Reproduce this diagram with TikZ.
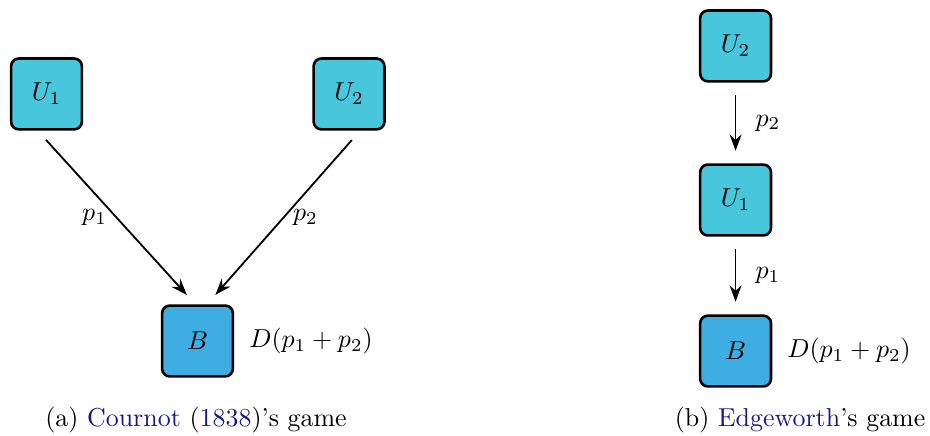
\documentclass[tikz,border=0pt]{standalone}
\usepackage{amsmath,amssymb}
\usepackage{tikz}
\usetikzlibrary{positioning, arrows.meta, calc}
\definecolor{ucyan}{RGB}{72,198,220}
\definecolor{bblue}{RGB}{62,174,226}
\definecolor{citeblue}{RGB}{24,24,140}
\tikzset{
  player/.style={draw, line width=1pt, rounded corners=3pt, fill=ucyan, minimum width=0.96cm, minimum height=0.96cm},
  buyer/.style={player, fill=bblue},
  wire/.style={-{Stealth[length=2.2mm, width=1.6mm]}, line width=0.7pt, shorten <=0.17cm, shorten >=0.17cm}
}

\begin{document}
\begin{tikzpicture}
    \useasboundingbox (0,0) rectangle (12.6,5.894);
    %% (a) Cournot: both sellers feed the buyer
    \node[player] (u1a) at (0.630, 4.621) {$U_1$};
    \node[player] (u2a) at (4.729, 4.621) {$U_2$};
    \node[buyer]  (ba)  at (2.676, 1.274) {$B$};
    \node[right=0.08cm of ba] (da) {$D(p_1+p_2)$};
    \draw[wire] ([xshift=-0.12cm]u1a.south) -- node[left=0pt]  {$p_1$} ([xshift=-0.03cm]ba.north);
    \draw[wire] ([xshift=0.15cm]u2a.south) -- node[right=0pt] {$p_2$} ([xshift=0.13cm]ba.north);
    \node (capa) at (2.656, 0.203) {(a) \textcolor{citeblue}{Cournot} (\textcolor{citeblue}{1838})'s game};
    %% (b) Edgeworth: sellers in a chain
    \node[player] (u2b) at (9.966, 5.271) {$U_2$};
    \node[player] (u1b) at (9.966, 3.184) {$U_1$};
    \node[buyer]  (bb)  at (9.966, 1.138) {$B$};
    \node[right=0.08cm of bb] (db) {$D(p_1+p_2)$};
    \draw[wire] (u2b.south) -- node[right=4pt] {$p_2$} (u1b.north);
    \draw[wire] (u1b.south) -- node[right=4pt] {$p_1$} (bb.north);
    \node (capb) at (10.84, 0.203) {(b) \textcolor{citeblue}{Edgeworth}'s game};
\end{tikzpicture}
\end{document}
